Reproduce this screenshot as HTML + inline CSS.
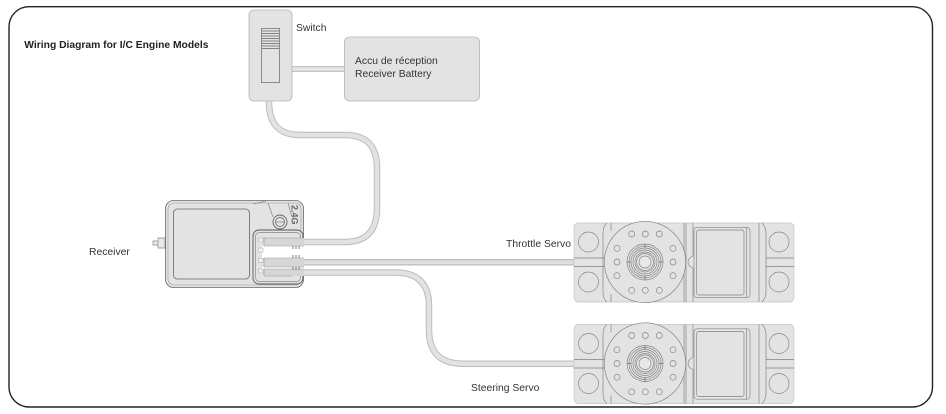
<!DOCTYPE html>
<html><head><meta charset="utf-8"><style>
html,body{margin:0;padding:0;background:#fff;width:946px;height:414px;overflow:hidden}
svg{display:block;filter:blur(.3px)}
text{font-family:"Liberation Sans",sans-serif;fill:#333;font-size:10.35px}
</style></head><body>
<svg width="946" height="414" viewBox="0 0 946 414" xmlns="http://www.w3.org/2000/svg">
<defs>
<g id="servo" fill="none" stroke="#808080" stroke-width=".65">
<path d="M4 0H216a4 4 0 0 1 4 4V75a4 4 0 0 1-4 4H4a4 4 0 0 1-4-4V4a4 4 0 0 1 4-4Z" fill="#e3e3e3" stroke="#c4c4c4"/>
<path d="M0 35H30M0 43.500H30M192 35H220M192 43.500H220"/>
<path d="M33 0Q29 3 29 10V69Q29 76 33 79M37 0V8M37 71V79M110 0V79M112 0V79M119 0V33Q114 35 114 39Q114 43 119 45V79M185 0V79M188 0Q192 4 192 10V69Q192 75 188 79"/>
<circle cx="14.500" cy="19" r="10"/><circle cx="14.500" cy="59" r="10"/><circle cx="205" cy="19" r="10"/><circle cx="205" cy="59" r="10"/>
<circle cx="71" cy="39" r="40.700" fill="#e3e3e3"/>
<circle cx="71" cy="39" r="18"/><circle cx="71" cy="39" r="16"/><circle cx="71" cy="39" r="14"/><circle cx="71" cy="39" r="12"/><circle cx="71" cy="39" r="10"/><circle cx="71" cy="39" r="8.500"/>
<circle cx="71" cy="39" r="6" fill="#e8e8e8"/>
<path d="M71 21V25M71 53V57M53 39H57M85 39H89" stroke-width="1"/>
<circle cx="57.700" cy="11" r="3"/><circle cx="71.300" cy="11" r="3"/><circle cx="85.300" cy="11" r="3"/>
<circle cx="57.700" cy="67.300" r="3"/><circle cx="71.300" cy="67.300" r="3"/><circle cx="85.300" cy="67.300" r="3"/>
<circle cx="43" cy="25.300" r="3"/><circle cx="43" cy="39" r="3"/><circle cx="43" cy="52.700" r="3"/>
<circle cx="99" cy="25.300" r="3"/><circle cx="99" cy="39" r="3"/><circle cx="99" cy="52.700" r="3"/>
<rect x="120" y="4.300" width="56" height="70.400" rx="3"/><rect x="122.700" y="7" width="47.300" height="65" rx="2"/><path d="M172.700 4.500V74.500"/>
</g>
</defs>
<rect x="9" y="6.700" width="923.500" height="400.300" rx="20" fill="#fff" stroke="#222" stroke-width="1.4"/>

<!-- cables -->
<g fill="none">
<path d="M269 100V104Q270 135 300 135H345Q377 135 377 168V208Q377 242 345 242H295" stroke="#bcbcbc" stroke-width="6.500"/>
<path d="M269 100V104Q270 135 300 135H345Q377 135 377 168V208Q377 242 345 242H295" stroke="#e2e2e2" stroke-width="4.500"/>
<path d="M292 69H345" stroke="#c4c4c4" stroke-width="6"/><path d="M292 69H345" stroke="#e6e6e6" stroke-width="3.500"/>
<path d="M290 262.300H574" stroke="#bcbcbc" stroke-width="6.500"/><path d="M290 262.300H574" stroke="#e0e0e0" stroke-width="4"/>
<path d="M290 272.500H395Q429 272.500 429 306V330Q429 363.700 463 363.700H574" stroke="#bcbcbc" stroke-width="6.500"/>
<path d="M290 272.500H395Q429 272.500 429 306V330Q429 363.700 463 363.700H574" stroke="#e2e2e2" stroke-width="4.500"/>
</g>

<!-- switch -->
<rect x="249" y="10" width="43" height="91" rx="5" fill="#e3e3e3" stroke="#b5b5b5" stroke-width=".8"/>
<rect x="261.500" y="28.500" width="18" height="54" fill="#e3e3e3" stroke="#666" stroke-width=".7"/>
<path d="M262 31H279M262 33.500H279M262 36H279M262 38.500H279M262 41H279M262 43.500H279M262 46H279M262 48.500H279" stroke="#666" stroke-width=".7"/>

<!-- battery -->
<rect x="344.500" y="37" width="135" height="64" rx="5" fill="#e3e3e3" stroke="#b5b5b5" stroke-width=".8"/>

<!-- receiver -->
<path d="M153 241H158V245H153ZM158 238H165V248H158Z" fill="#e8e8e8" stroke="#888" stroke-width=".7"/>
<path d="M165 243H174" stroke="#aaa" stroke-width=".6"/>
<rect x="165.500" y="200.500" width="138" height="87" rx="8" fill="#e3e3e3" stroke="#666" stroke-width=".8"/>
<rect x="168" y="203" width="133" height="82" rx="6" fill="none" stroke="#999" stroke-width=".6"/>
<rect x="173.500" y="209" width="76" height="70" rx="4" fill="#e3e3e3" stroke="#666" stroke-width=".8"/>
<path d="M253 204L266 201M268 203L273 217M288 203L292 217" fill="none" stroke="#888" stroke-width=".7"/>
<circle cx="280" cy="222" r="7" fill="none" stroke="#666" stroke-width=".9"/><circle cx="280" cy="222" r="4.500" fill="none" stroke="#777" stroke-width=".9"/>
<path d="M276 222H284" stroke="#777" stroke-width=".7"/>
<text x="0" y="0" transform="translate(291.500,205) rotate(90)" style="font-size:9px;font-weight:bold;fill:#666">2.4G</text>
<rect x="253" y="230" width="50" height="54" rx="6" fill="#e3e3e3" stroke="#555" stroke-width=".9"/>
<rect x="255.500" y="232.500" width="45" height="49" rx="4" fill="none" stroke="#888" stroke-width=".7"/>
<rect x="264" y="238" width="40" height="8" fill="#d6d6d6"/>
<rect x="262" y="246" width="42" height="12" fill="#fff"/>
<rect x="264" y="258" width="40" height="9" fill="#d6d6d6"/>
<rect x="262" y="267" width="42" height="2" fill="#fff"/>
<rect x="264" y="269" width="40" height="7" fill="#d6d6d6"/>
<path d="M264 238H304M264 246H304M264 258H304M264 267H304M264 269H304M264 276H292" stroke="#999" stroke-width=".5"/>
<path d="M264 238V246M264 258V267M264 269V276" stroke="#888" stroke-width=".5"/>
<g fill="#f2f2f2" stroke="#aaa" stroke-width=".5"><rect x="258.500" y="238" width="4.500" height="4"/><rect x="258.500" y="248" width="4.500" height="4"/><rect x="258.500" y="258.500" width="4.500" height="4"/><rect x="258.500" y="269" width="4.500" height="4"/></g>
<path d="M293 246V249M296 246V249M299 246V249M293 255V258M296 255V258M299 255V258M293 267V270M296 267V270M299 267V270" stroke="#555" stroke-width=".7"/>

<use href="#servo" x="574" y="223"/>
<use href="#servo" x="574" y="324.500"/>

<text x="24.300" y="48" style="font-weight:bold;font-size:10.3px;fill:#222">Wiring Diagram for I/C Engine Models</text>
<text x="296" y="31">Switch</text>
<text x="355" y="64">Accu de réception</text>
<text x="355" y="77">Receiver Battery</text>
<text x="89" y="255">Receiver</text>
<text x="506" y="247">Throttle Servo</text>
<text x="471" y="391">Steering Servo</text>
</svg>
</body></html>
